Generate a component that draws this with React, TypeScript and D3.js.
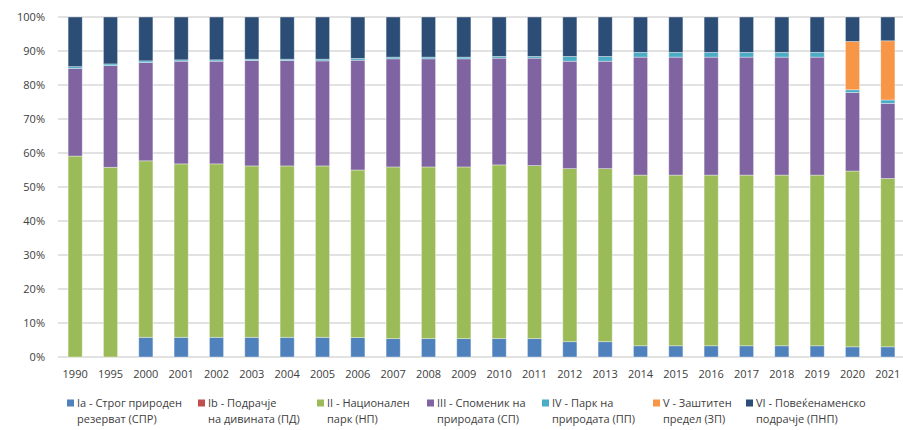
import React from "react";
import * as d3 from "d3";

const years = ["1990","1995","2000","2001","2002","2003","2004","2005","2006","2007","2008","2009","2010","2011","2012","2013","2014","2015","2016","2017","2018","2019","2020","2021"];

const seriesKeys = ["Ia","Ib","II","III","IV","V","VI"];
const legendLine1 = ["Ia - Строг природен","Ib - Подрачје","II - Национален","III - Споменик на","IV - Парк на","V - Заштитен","VI - Повеќенаменско"];
const legendLine2 = ["резерват (СПР)","на дивината (ПД)","парк (НП)","природата (СП)","природата (ПП)","предел (ЗП)","подрачје (ПНП)"];
const colors = ["#4F81BD","#C0504D","#9BBB59","#8064A2","#4BACC6","#F79646","#2C4D75"];

// shares in % per year
const Ia = [0,0,5.8,5.8,5.8,5.8,5.8,5.8,5.7,5.4,5.4,5.4,5.4,5.4,4.5,4.5,3.3,3.3,3.3,3.3,3.3,3.3,3.0,3.0];
const Ib = [0,0,0,0,0,0,0,0,0,0,0,0,0,0,0,0,0,0,0,0,0,0,0,0];
const II = [59.1,55.8,51.9,51.0,51.0,50.4,50.4,50.4,49.3,50.5,50.5,50.5,51.1,50.9,50.9,50.9,50.2,50.2,50.2,50.2,50.2,50.2,51.7,49.5];
const III = [25.8,29.9,28.9,30.2,30.2,31.0,31.0,30.9,32.3,31.8,31.8,31.8,31.4,31.6,31.6,31.6,34.7,34.7,34.7,34.7,34.7,34.7,23.1,22.1];
const IV = [0.5,0.5,0.5,0.4,0.4,0.4,0.4,0.5,0.5,0.5,0.5,0.5,0.5,0.5,1.4,1.4,1.4,1.4,1.4,1.4,1.4,1.4,0.8,1.0];
const V = [0,0,0,0,0,0,0,0,0,0,0,0,0,0,0,0,0,0,0,0,0,0,14.2,17.4];
const VI = [14.6,13.8,12.9,12.6,12.6,12.4,12.4,12.4,12.2,11.8,11.8,11.8,11.6,11.6,11.6,11.6,10.4,10.4,10.4,10.4,10.4,10.4,7.2,7.0];

const yTicks = [0,10,20,30,40,50,60,70,80,90,100];

const W = 903, H = 430;
const legendX = [67, 198, 317, 427, 542, 653, 746];

export default function App() {
  const seriesVals = [Ia, Ib, II, III, IV, V, VI];
  const rows = years.map((y, i) => {
    const r: any = { year: y };
    seriesKeys.forEach((k, s) => (r[k] = seriesVals[s][i]));
    return r;
  });
  const stacked = d3.stack().keys(seriesKeys).offset(d3.stackOffsetExpand)(rows);

  const x = d3.scaleBand().domain(years).range([57.5, 905.5]).paddingInner(0.6).paddingOuter(0.3);
  const y = d3.scaleLinear().domain([0, 1]).range([357, 17]);
  const font = "'Open Sans', 'Liberation Sans', sans-serif";

  return (
    <svg width={W} height={H} style={{ position: "absolute", left: 0, top: 0, background: "#fff" }}>
      {yTicks.map((t) => (
        <g key={t}>
          <line x1={58} x2={W} y1={y(t / 100)} y2={y(t / 100)} stroke="#D9D9D9" strokeWidth={1.5} />
          <text x={45} y={y(t / 100)} dy="0.35em" textAnchor="end" fontSize={11} fontFamily={font} fill="#404040">{t}%</text>
        </g>
      ))}
      {stacked.map((s, si) => (
        <g key={s.key} fill={colors[si]}>
          {s.map((d, i) => {
            const h = y(d[0]) - y(d[1]);
            if (h <= 0) return null;
            return (
              <rect key={i} x={x(years[i])} width={x.bandwidth()} y={y(d[1])} height={h} stroke="#ffffff" strokeOpacity={0.45} strokeWidth={0.8} />
            );
          })}
        </g>
      ))}
      {years.map((yr) => (
        <text key={yr} x={(x(yr) as number) + x.bandwidth() / 2} y={374} dy="0.35em" textAnchor="middle" fontSize={11} fontFamily={font} fill="#404040">{yr}</text>
      ))}
      {seriesKeys.map((k, i) => (
        <g key={k} transform={`translate(${legendX[i]},0)`}>
          <rect x={0} y={399.5} width={7} height={7} fill={colors[i]} />
          <text x={10} y={403} dy="0.35em" fontSize={11} fontFamily={font} fill="#404040">{legendLine1[i]}</text>
          <text x={10} y={419} dy="0.35em" fontSize={11} fontFamily={font} fill="#404040">{legendLine2[i]}</text>
        </g>
      ))}
    </svg>
  );
}
